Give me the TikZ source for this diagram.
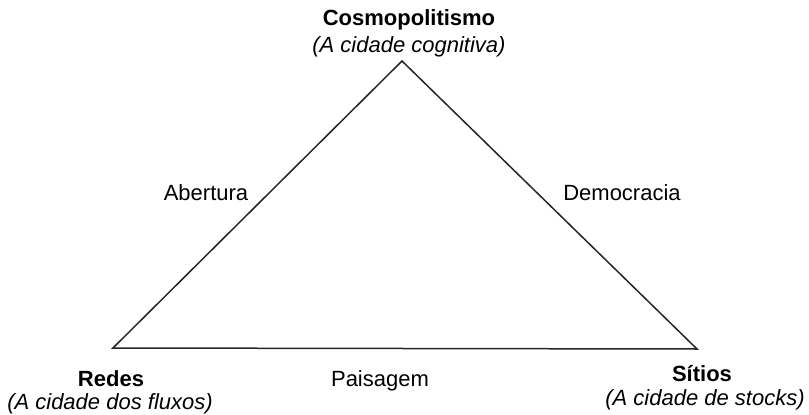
\documentclass[tikz,border=0pt]{standalone}
\usepackage{fontspec}
\setmainfont{Liberation Sans}
\begin{document}
\begin{tikzpicture}[x=1pt,y=-1pt,
  lbl/.style={font=\fontsize{22}{26}\selectfont, inner sep=0pt, align=center},
  side/.style={line width=1.5pt, draw=black!85}]
\useasboundingbox (0,0) rectangle (809,415);
\coordinate (T) at (402,61);
\coordinate (L) at (113,348);
\coordinate (R) at (697,349);
\draw[side] (T) -- (L) -- (R) -- cycle;
\node[lbl] (cosmo) at (409,20) {\textbf{Cosmopolitismo}};
\node[lbl] (cosmoi) at (409,47) {\textit{(A cidade cognitiva)}};
\node[lbl] (redes) at (111,379) {\textbf{Redes}};
\node[lbl] (redesi) at (110,404) {\textit{(A cidade dos fluxos)}};
\node[lbl] (sitios) at (702,374) {\textbf{Sítios}};
\node[lbl] (sitiosi) at (705,400) {\textit{(A cidade de stocks)}};
\node[lbl] (ab) at (206,193) {Abertura};
\node[lbl] (dem) at (622,193) {Democracia};
\node[lbl] (pais) at (380,381) {Paisagem};
\end{tikzpicture}
\end{document}
